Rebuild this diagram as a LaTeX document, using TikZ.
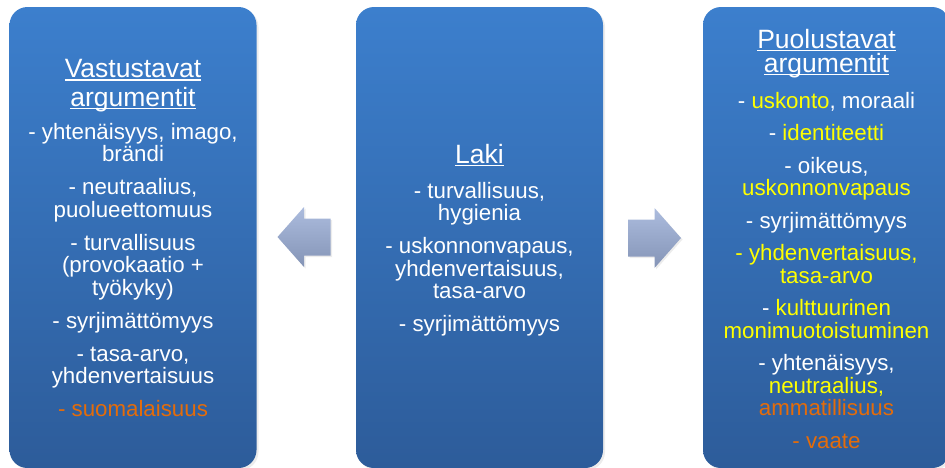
\documentclass[tikz,border=0pt]{standalone}
\usepackage{fontspec}
\setmainfont{Liberation Sans}
\usepackage{xcolor}
\definecolor{laatikkoyla}{RGB}{60,127,205}
\definecolor{laatikkoala}{RGB}{45,92,154}
\definecolor{nuoliyla}{RGB}{172,188,222}
\definecolor{nuoliala}{RGB}{132,148,182}
\definecolor{keltainen}{RGB}{255,255,0}
\definecolor{oranssi}{RGB}{228,108,10}
\usepackage{tikz}
\usetikzlibrary{shadows}
\newcommand{\ulin}[1]{\setbox0\hbox{#1}\rlap{\rule[-3pt]{\wd0}{1.5pt}}\box0}
\newcommand{\otsikko}[1]{{\fontsize{26.5}{28}\selectfont\ulin{#1}}}
\newcommand{\nuoli}[3]{\begin{scope}[shift={(#1,#2)},xscale=#3]
\shade[top color=nuoliyla,bottom color=nuoliala,drop shadow={shadow xshift=1.5pt,shadow yshift=-1.5pt,opacity=.15}] (-26.5,-18.5) -- (0,-18.5) -- (0,-30) -- (26.5,0) -- (0,30) -- (0,18.5) -- (-26.5,18.5) -- cycle;
\end{scope}}
\tikzset{
laatikko/.style={rounded corners=18pt,top color=laatikkoyla,bottom color=laatikkoala,minimum width=247pt,minimum height=461pt,inner sep=0pt,drop shadow={shadow xshift=2pt,shadow yshift=-2pt,opacity=.15}},
teksti/.style={align=center,text=white,inner sep=0pt,font=\fontsize{22.3}{22.5}\selectfont}
}

\begin{document}
\begin{tikzpicture}[x=1pt,y=-1pt]
\useasboundingbox (0,0) rectangle (945,467);
% ---- LAATIKOT ----
\node[laatikko] (vasta) at (133,237.5) {};
\node[laatikko] (laki) at (479.5,237.5) {};
\node[laatikko] (puolu) at (826.5,237.5) {};
% ---- NUOLET ----
\nuoli{304}{237}{-1}
\nuoli{654.5}{238}{1}
% A: vastustavat
\node[teksti] (vastateksti) at (133,238) {\otsikko{Vastustavat}\\[6pt]
\otsikko{argumentit}\\[10.5pt]
- yhtenäisyys, imago,\\ brändi\\[10.5pt]
- neutraalius,\\ puolueettomuus\\[10.5pt]
- turvallisuus\\ (provokaatio +\\ työkyky)\\[10.5pt]
- syrjimättömyys\\[10.5pt]
- tasa-arvo,\\ yhdenvertaisuus\\[10.5pt]
\textcolor{oranssi}{- suomalaisuus}};
% B: laki
\node[teksti] (lakiteksti) at (479.5,240) {\otsikko{Laki}\\[12.5pt]
- turvallisuus,\\ hygienia\\[10.5pt]
- uskonnonvapaus,\\ yhdenvertaisuus,\\ tasa-arvo\\[10.5pt]
- syrjimättömyys};
% C: puolustavat
\node[teksti] (puoluteksti) at (826.5,238.5) {\otsikko{Puolustavat}\\[1.5pt]
\otsikko{argumentit}\\[13.5pt]
- \textcolor{keltainen}{uskonto}, moraali\\[10pt]
- \textcolor{keltainen}{identiteetti}\\[10pt]
- oikeus,\\ \textcolor{keltainen}{uskonnonvapaus}\\[10pt]
- syrjimättömyys\\[10pt]
\textcolor{keltainen}{- yhdenvertaisuus,}\\ \textcolor{keltainen}{tasa-arvo}\\[10pt]
- \textcolor{keltainen}{kulttuurinen}\\ \textcolor{keltainen}{monimuotoistuminen}\\[10pt]
- yhtenäisyys,\\ \textcolor{keltainen}{neutraalius,}\\ \textcolor{oranssi}{ammatillisuus}\\[10pt]
\textcolor{oranssi}{- vaate}};
\end{tikzpicture}
\end{document}
